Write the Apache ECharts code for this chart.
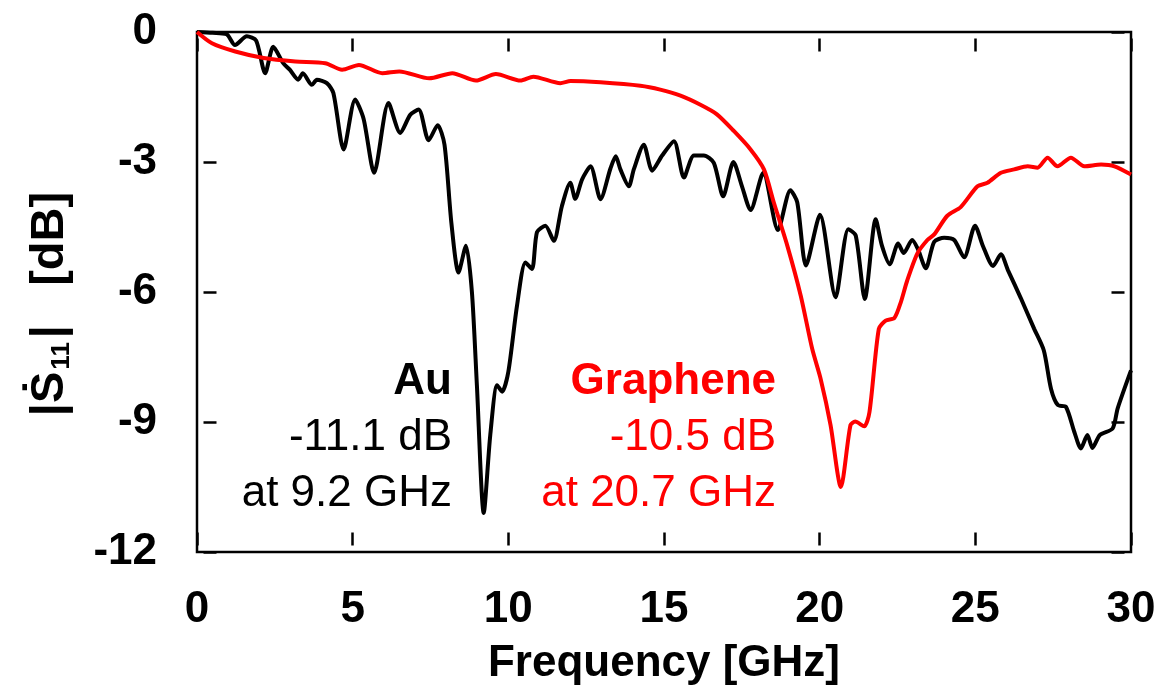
<!DOCTYPE html>
<html>
<head>
<meta charset="utf-8">
<script src="https://cdn.jsdelivr.net/npm/echarts@6/dist/echarts.min.js"></script>
<style>
  html, body { margin: 0; padding: 0; background: #fff; }
  #chart { width: 1160px; height: 693px; }
</style>
</head>
<body>
<div id="chart"></div>
<script>
// Au sample (black)
const auFreq = [0, 0.5, 0.95, 1.22, 1.6, 1.9, 2.19, 2.45, 2.77, 2.98, 3.25, 3.4, 3.69, 3.85, 4.17, 4.38,
  4.71, 5.08, 5.35, 5.69, 6.15, 6.53, 6.85, 7.12, 7.44, 7.73, 7.95, 8.17, 8.4, 8.64, 8.83, 8.99,
  9.21, 9.42, 9.64, 9.8, 10.0, 10.28, 10.55, 10.76, 10.92, 11.19, 11.46, 11.72, 11.99, 12.15, 12.37,
  12.64, 12.96, 13.28, 13.45, 13.6, 13.87, 14.03, 14.35, 14.62, 14.94, 15.32, 15.64, 15.96, 16.28,
  16.6, 16.9, 17.23, 17.5, 17.78, 18.19, 18.66, 19.06, 19.28, 19.56, 20.01, 20.51, 20.92, 21.16,
  21.45, 21.8, 22.0, 22.25, 22.52, 22.7, 22.97, 23.15, 23.41, 23.68, 24.0, 24.32, 24.64, 24.99,
  25.25, 25.57, 25.82, 26.05, 26.46, 26.89, 27.2, 27.43, 27.65, 27.91, 28.18, 28.39, 28.6, 28.76,
  29.0, 29.41, 29.57, 30.0];
const auDb = [0, -0.02, -0.05, -0.3, -0.1, -0.2, -0.95, -0.34, -0.72, -0.87, -1.1, -0.95, -1.22, -1.1, -1.18, -1.41,
  -2.71, -1.56, -2.0, -3.25, -1.64, -2.33, -1.91, -1.79, -2.5, -2.15, -2.6, -4.4, -5.55, -4.93, -6.0, -8.15,
  -11.1, -9.3, -8.15, -8.3, -7.84, -6.31, -5.32, -5.47, -4.62, -4.47, -4.82, -4.02, -3.48, -3.85, -3.4,
  -3.1, -3.86, -3.15, -2.87, -3.17, -3.56, -3.17, -2.6, -3.2, -2.85, -2.52, -3.36, -2.85, -2.85,
  -3.02, -3.79, -3.0, -3.55, -4.11, -3.25, -4.57, -3.65, -3.93, -5.39, -4.22, -6.12, -4.55, -4.7,
  -6.16, -4.32, -4.93, -5.36, -4.88, -5.1, -4.8, -5.0, -5.45, -4.84, -4.75, -4.8, -5.2, -4.47,
  -4.95, -5.4, -5.13, -5.5, -6.14, -6.85, -7.35, -8.23, -8.61, -8.65, -9.23, -9.61, -9.3, -9.6,
  -9.3, -9.15, -8.69, -7.81];

// Graphene sample (red)
const grFreq = [0, 0.48, 1.23, 2.14, 3.16, 4.12, 4.66, 5.2, 5.95, 6.5, 7.46, 8.2, 8.96, 9.6, 10.39, 10.8,
  11.67, 12.0, 12.96, 14.24, 14.88, 15.53, 16.17, 16.7, 17.25, 17.78, 18.21, 18.53, 18.96, 19.39,
  19.76, 20.03, 20.35, 20.68, 20.99, 21.14, 21.43, 21.6, 21.9, 22.12, 22.4, 22.6, 22.81, 23.14,
  23.46, 23.68, 24.1, 24.53, 25.07, 25.39, 25.82, 26.25, 26.68, 27.0, 27.32, 27.64, 28.07, 28.5,
  29.04, 29.47, 30.0];
const grDb = [0, -0.26, -0.45, -0.6, -0.68, -0.72, -0.87, -0.76, -0.95, -0.91, -1.07, -0.95, -1.12, -0.97, -1.12, -1.03,
  -1.18, -1.13, -1.16, -1.24, -1.33, -1.47, -1.68, -1.9, -2.29, -2.71, -3.17, -3.94, -4.93, -6.08,
  -7.31, -8.0, -9.07, -10.5, -9.07, -8.99, -9.1, -8.77, -6.85, -6.66, -6.6, -6.25, -5.74, -5.11,
  -4.8, -4.67, -4.24, -4.04, -3.56, -3.48, -3.25, -3.17, -3.1, -3.13, -2.9, -3.1, -2.9, -3.1,
  -3.06, -3.1, -3.29];

const freqTicks = [0, 5, 10, 15, 20, 25, 30];
const dbTicks = [0, -3, -6, -9, -12];

const auNote = ['Au', '-11.1 dB', 'at 9.2 GHz'];
const grNote = ['Graphene', '-10.5 dB', 'at 20.7 GHz'];

const font = 'Liberation Sans, Arial, sans-serif';
const tickLen = 13;

function pairs(xs, ys) {
  return xs.map((x, i) => [x, ys[i]]);
}

const chart = echarts.init(document.getElementById('chart'));

// ticks are centred on the axis line, so shift each axis inward by half a tick
function frameAxis() {
  return {
    offset: -tickLen / 2,
    axisLine: { show: false, onZero: false },
    axisTick: { show: true, inside: true, length: tickLen, lineStyle: { color: '#000', width: 2.5 } },
    splitLine: { show: false }
  };
}

function noteText(lines, right, color) {
  return lines.map((t, i) => ({
    type: 'text',
    right: right,
    top: 360 + i * 56,
    style: {
      text: t,
      fill: color,
      font: (i === 0 ? 'bold ' : '') + '44px ' + font,
      textAlign: 'right'
    }
  }));
}

chart.setOption({
  animation: false,
  backgroundColor: '#fff',
  grid: {
    left: 197, right: 29, top: 32, bottom: 141,
    show: true, borderColor: '#000', borderWidth: 2.5, backgroundColor: 'transparent'
  },
  xAxis: [
    Object.assign(frameAxis(), {
      type: 'value', min: 0, max: 30, interval: 5, position: 'bottom',
      name: 'Frequency [GHz]', nameLocation: 'middle', nameGap: 90 + tickLen / 2,
      nameTextStyle: { fontFamily: font, fontWeight: 'bold', fontSize: 44, color: '#000' },
      axisLabel: {
        margin: 36 + tickLen / 2, fontFamily: font, fontWeight: 'bold', fontSize: 44, color: '#000',
        formatter: v => freqTicks.includes(v) ? String(v) : ''
      }
    }),
    Object.assign(frameAxis(), {
      type: 'value', min: 0, max: 30, interval: 5, position: 'top',
      axisLabel: { show: false }
    })
  ],
  yAxis: [
    Object.assign(frameAxis(), {
      type: 'value', min: -12, max: 0, interval: 3, position: 'left',
      name: '{t|\u007cS\u0307}{s|11}{t|\u007c   [dB]}', nameLocation: 'middle', nameGap: 122 + tickLen / 2, nameRotate: 90,
      nameTextStyle: {
        rich: {
          t: { fontFamily: font, fontWeight: 'bold', fontSize: 47, color: '#000' },
          s: { fontFamily: font, fontWeight: 'bold', fontSize: 26, color: '#000', padding: [24, 4, 0, 2] }
        },
        padding: [0, 24, 0, 0]
      },
      axisLabel: {
        margin: 40 + tickLen / 2, fontFamily: font, fontWeight: 'bold', fontSize: 44, color: '#000',
        formatter: v => dbTicks.includes(v) ? String(v) : ''
      }
    }),
    Object.assign(frameAxis(), {
      type: 'value', min: -12, max: 0, interval: 3, position: 'right',
      axisLabel: { show: false }
    })
  ],
  series: [
    {
      name: 'Au', type: 'line', xAxisIndex: 0, yAxisIndex: 0,
      data: pairs(auFreq, auDb), showSymbol: false, smooth: 0.25,
      lineStyle: { color: '#000', width: 4 }
    },
    {
      name: 'Graphene', type: 'line', xAxisIndex: 0, yAxisIndex: 0,
      data: pairs(grFreq, grDb), showSymbol: false, smooth: 0.25,
      lineStyle: { color: '#ff0000', width: 4 }
    }
  ],
  graphic: noteText(auNote, 1160 - 452, '#000').concat(noteText(grNote, 1160 - 776, '#ff0000'))
});
</script>
</body>
</html>
